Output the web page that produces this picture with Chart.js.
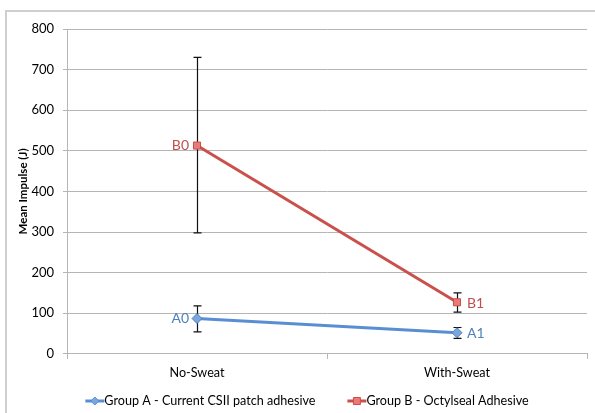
<!DOCTYPE html>
<html>
<head>
<meta charset="utf-8">
<script src="https://cdn.jsdelivr.net/npm/chart.js@4/dist/chart.umd.min.js"></script>
<style>
  html, body { margin: 0; padding: 0; background: #fff; }
  #wrap { position: relative; width: 595px; height: 413px; overflow: hidden; }
  #frame {
    position: absolute; left: 5px; top: 10px; width: 620px; height: 420px;
    border-left: 2px solid #cfcfcf; border-top: 2px solid #cfcfcf;
  }
  canvas { position: absolute; left: 0; top: 0; }
</style>
</head>
<body>
<div id="wrap">
  <div id="frame"></div>
  <canvas id="impulseChart" width="595" height="413"></canvas>
</div>
<script>
// Mean impulse, two adhesive groups, with/without sweat

const categories = ["No-Sweat", "With-Sweat"];

const groupAName = "Group A - Current CSII patch adhesive";
const groupA = [87, 52];
const groupALow = [54, 38];
const groupAHigh = [118, 65];
const groupATags = ["A0", "A1"];

const groupBName = "Group B - Octylseal Adhesive";
const groupB = [513, 127];
const groupBLow = [298, 103];
const groupBHigh = [730, 150];
const groupBTags = ["B0", "B1"];

const yTicks = [0, 100, 200, 300, 400, 500, 600, 700, 800];

const FONT = "Lato";
const BLUE = "#5a8ed3";
const BLUE_FILL = "#7aa6e0";
const RED = "#c9504c";
const RED_FILL = "#eb7977";

function drawGlyph(g, x, y, color, fill, diamond) {
  g.save();
  g.strokeStyle = color;
  g.lineWidth = 3;
  g.beginPath();
  g.moveTo(x, y);
  g.lineTo(x + 19, y);
  g.stroke();
  g.fillStyle = fill;
  g.lineWidth = 1;
  g.beginPath();
  const cx = x + 9.5;
  if (diamond) {
    g.moveTo(cx, y - 4); g.lineTo(cx + 4, y); g.lineTo(cx, y + 4); g.lineTo(cx - 4, y);
  } else {
    g.rect(cx - 3.5, y - 3.5, 7, 7);
  }
  g.closePath();
  g.fill();
  g.stroke();
  g.restore();
}

// Excel-style legend: glyph, text right after it, fixed gap between items
const bottomLegend = {
  id: "bottomLegend",
  afterDraw(chart) {
    const g = chart.ctx;
    const items = [
      [groupAName, BLUE, BLUE_FILL, true],
      [groupBName, RED, RED_FILL, false],
    ];
    g.save();
    g.font = `12.6px ${FONT}`;
    g.textBaseline = "middle";
    g.textAlign = "left";
    g.fillStyle = "#000";
    const gap = 32;
    const widths = items.map((it) => 19 + g.measureText(it[0]).width);
    const total = widths.reduce((a, b) => a + b, 0) + gap;
    let x = 307 - total / 2;
    const y = 401;
    items.forEach((it, i) => {
      drawGlyph(g, x, y, it[1], it[2], it[3]);
      g.fillText(it[0], x + 19, y);
      x += widths[i] + gap;
    });
    g.restore();
  },
};

const errorBars = {
  id: "errorBars",
  beforeDatasetsDraw(chart) {
    const ctx = chart.ctx;
    const x = chart.scales.x;
    const y = chart.scales.y;
    const sets = [[groupALow, groupAHigh], [groupBLow, groupBHigh]];
    ctx.save();
    ctx.strokeStyle = "#111";
    ctx.lineWidth = 1.2;
    sets.forEach(([lo, hi]) => {
      categories.forEach((cat, i) => {
        const px = Math.round(x.getPixelForValue(i)) + 0.5;
        const y1 = y.getPixelForValue(lo[i]);
        const y2 = y.getPixelForValue(hi[i]);
        ctx.beginPath();
        ctx.moveTo(px, y1); ctx.lineTo(px, y2);
        ctx.moveTo(px - 4, y1); ctx.lineTo(px + 4, y1);
        ctx.moveTo(px - 4, y2); ctx.lineTo(px + 4, y2);
        ctx.stroke();
      });
    });
    ctx.restore();
  },
};

const pointTags = {
  id: "pointTags",
  afterDatasetsDraw(chart) {
    const ctx = chart.ctx;
    const x = chart.scales.x;
    const y = chart.scales.y;
    ctx.save();
    ctx.font = `14px ${FONT}`;
    ctx.textBaseline = "middle";
    [[groupA, groupATags, "#4f81bd"], [groupB, groupBTags, "#c0504d"]].forEach(
      ([vals, tags, col]) => {
        ctx.fillStyle = col;
        vals.forEach((v, i) => {
          const px = x.getPixelForValue(i);
          const py = y.getPixelForValue(v);
          if (i === 0) {
            ctx.textAlign = "right";
            ctx.fillText(tags[i], px - 8, py);
          } else {
            ctx.textAlign = "left";
            ctx.fillText(tags[i], px + 10, py + 1);
          }
        });
      },
    );
    ctx.restore();
  },
};

const ctx = document.getElementById("impulseChart").getContext("2d");
new Chart(ctx, {
  type: "line",
  data: {
    labels: categories,
    datasets: [
      {
        label: groupAName,
        data: groupA,
        borderColor: BLUE,
        backgroundColor: BLUE_FILL,
        borderWidth: 3,
        pointStyle: "rectRot",
        pointRadius: 5,
        pointBorderWidth: 1,
        pointBorderColor: "#4f81bd",
      },
      {
        label: groupBName,
        data: groupB,
        borderColor: RED,
        backgroundColor: RED_FILL,
        borderWidth: 3,
        pointStyle: "rect",
        pointRadius: 5,
        pointBorderWidth: 1,
        pointBorderColor: "#c0504d",
      },
    ],
  },
  options: {
    responsive: false,
    animation: false,
    layout: { padding: { left: 0, right: 8, top: 29, bottom: 27 } },
    plugins: {
      legend: { display: false },
      tooltip: { enabled: false },
    },
    scales: {
      x: {
        offset: true,
        grid: {
          offset: true,
          drawOnChartArea: false,
          tickLength: 5,
          tickColor: "#b5b5b5",
        },
        border: { color: "#b5b5b5", width: 1 },
        ticks: { color: "#000", font: { family: FONT, size: 12.6 }, padding: 6 },
      },
      y: {
        min: 0,
        max: 800,
        afterFit: (scale) => { scale.width = 67; },
        afterBuildTicks: (scale) => {
          scale.ticks = yTicks.map((v) => ({ value: v }));
        },
        grid: { color: "#b5b5b5", tickLength: 4, tickColor: "#b5b5b5" },
        border: { color: "#b5b5b5" },
        ticks: { color: "#000", font: { family: FONT, size: 13 }, padding: 9 },
        title: {
          display: true,
          text: "Mean Impulse (J)",
          color: "#000",
          font: { family: FONT, size: 11.5, weight: "bold" },
          padding: { top: 16, bottom: 0 },
        },
      },
    },
  },
  plugins: [errorBars, pointTags, bottomLegend],
});
</script>
</body>
</html>
